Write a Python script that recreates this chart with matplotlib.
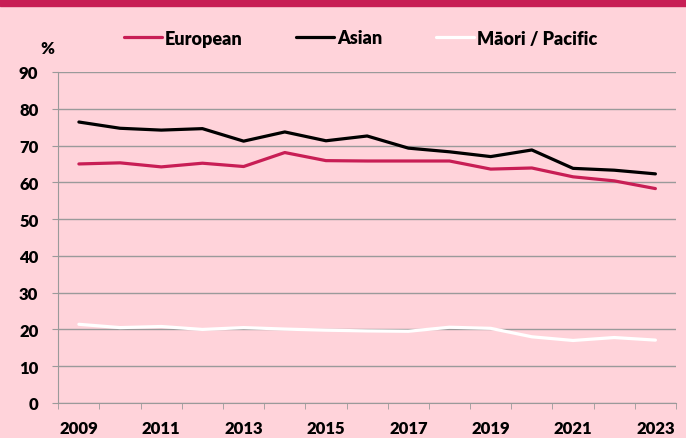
import matplotlib.pyplot as plt
import numpy as np
from matplotlib.patches import Rectangle

years = list(range(2009, 2024))
european = [65.0, 65.3, 64.2, 65.2, 64.3, 68.1, 65.9, 65.8, 65.8, 65.8, 63.6, 63.9, 61.5, 60.4, 58.3]
asian = [76.4, 74.7, 74.2, 74.6, 71.2, 73.7, 71.3, 72.6, 69.3, 68.3, 67.0, 68.8, 63.8, 63.3, 62.3]
maori_pacific = [21.4, 20.5, 20.8, 20.0, 20.5, 20.1, 19.8, 19.6, 19.5, 20.6, 20.3, 18.0, 17.0, 17.8, 17.1]
y_ticks = list(range(0, 100, 10))

bg = '#FFD3DA'
crimson = '#C81E55'
grid_col = '#9A9A9A'

plt.rcParams['font.family'] = ['Lato', 'DejaVu Sans']
plt.rcParams['font.weight'] = 'heavy'

fig = plt.figure(figsize=(6.86, 4.39), dpi=100, facecolor=bg)
ax = fig.add_axes([58.3 / 686, 1 - 404 / 439, (676 - 58.3) / 686, (404 - 73) / 439])
ax.set_facecolor(bg)

# crimson band along the top
fig.patches.append(Rectangle((0, 1 - 7 / 439), 1, 7 / 439, transform=fig.transFigure,
                             color=crimson, zorder=0))

x = np.arange(len(years))
ax.plot(x, european, color=crimson, lw=2.3, label='European', solid_capstyle='round')
ax.plot(x, asian, color='black', lw=2.3, label='Asian', solid_capstyle='round')
ax.plot(x, maori_pacific, color='white', lw=2.3, label='Māori / Pacific', solid_capstyle='round')

ax.set_xlim(-0.5, len(years) - 0.5)
ax.set_ylim(0, 90)
ax.set_yticks(y_ticks)
ax.yaxis.grid(True, color=grid_col, lw=1)
ax.set_axisbelow(True)

ax.set_xticks(x[::2])
ax.set_xticklabels([str(y) for y in years[::2]])
ax.set_xticks(np.arange(-0.5, len(years), 1), minor=True)
ax.tick_params(axis='x', which='major', length=0, pad=12, labelsize=12)
ax.tick_params(axis='x', which='minor', length=4.3, color=grid_col, direction='out')
ax.tick_params(axis='y', length=4.3, color=grid_col, pad=10, labelsize=12)

for s in ['top', 'right']:
    ax.spines[s].set_visible(False)
ax.spines['left'].set_color(grid_col)
ax.spines['bottom'].set_color(grid_col)

fig.text(47 / 686, 1 - 49 / 439, '%', fontsize=12, fontweight='heavy', ha='center', va='center')

leg = fig.legend(loc='center', bbox_to_anchor=(360.5 / 686, 1 - 39 / 439), ncol=3, frameon=False,
                 fontsize=13, handlelength=2.1, handletextpad=0.15, columnspacing=3.0)

fig.savefig('out.png', dpi=100, facecolor=bg)
